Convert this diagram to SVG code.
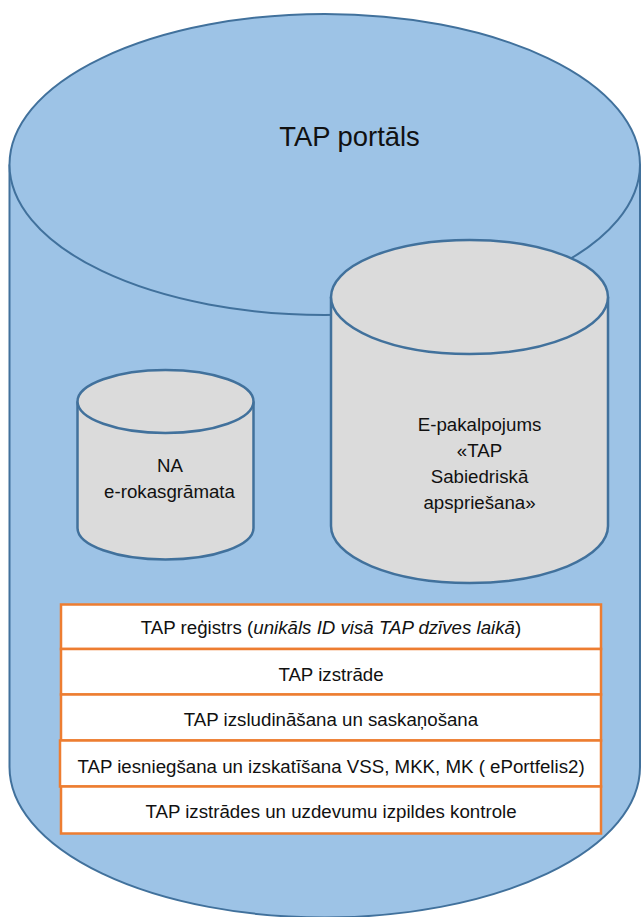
<svg xmlns="http://www.w3.org/2000/svg" width="641" height="917" viewBox="0 0 641 917">
<style>
.blue{fill:#9DC3E6;stroke:#41719C;stroke-width:2}
.grey{fill:#DBDBDB;stroke:#41719C;stroke-width:2.5}
.box{fill:#FFFFFF;stroke:#ED7D31;stroke-width:2.5}
text{font-family:"Liberation Sans",Arial,sans-serif;fill:#111;text-anchor:middle}
.t{font-size:18.7px}
.big{font-size:27.4px}
</style>
<rect width="641" height="917" fill="#FFFFFF"/>
<g id="tap-portals">
<path class="blue" d="M9.5,164.5 V767 A315.25,150.5 0 0,0 640,767 V164.5"/>
<ellipse class="blue" cx="324.75" cy="164.5" rx="315.25" ry="150.5"/>
<text class="big" x="349.5" y="146">TAP portāls</text>
</g>
<g id="na-e-rokasgramata">
<path class="grey" d="M77.5,401.5 V528 A88,31.5 0 0,0 253.5,528 V401.5"/>
<ellipse class="grey" cx="165.5" cy="401.5" rx="88" ry="31.5"/>
<text class="t" x="170" y="471.5">NA</text>
<text class="t" x="169.5" y="497.5">e-rokasgrāmata</text>
</g>
<g id="e-pakalpojums">
<path class="grey" d="M331,297 V526 A138.5,57 0 0,0 608,526 V297"/>
<ellipse class="grey" cx="469.5" cy="297" rx="138.5" ry="57"/>
<text class="t" x="479.5" y="431">E-pakalpojums</text>
<text class="t" x="479.5" y="457">«TAP</text>
<text class="t" x="479.5" y="483">Sabiedriskā</text>
<text class="t" x="479.5" y="509">apspriešana»</text>
</g>
<g id="box-registrs">
<rect class="box" x="61" y="604.5" width="540" height="44.5"/>
<text class="t" x="331" y="634">TAP reģistrs (<tspan font-style="italic">unikāls ID visā TAP dzīves laikā</tspan>)</text>
</g>
<g id="box-izstrade">
<rect class="box" x="61" y="649" width="540" height="45.5"/>
<text class="t" x="331" y="680.5">TAP izstrāde</text>
</g>
<g id="box-izsludinasana">
<rect class="box" x="61" y="694.5" width="540" height="46"/>
<text class="t" x="331" y="726">TAP izsludināšana un saskaņošana</text>
</g>
<g id="box-iesniegsana">
<rect class="box" x="60" y="740.5" width="541" height="46"/>
<text class="t" x="331" y="773">TAP iesniegšana un izskatīšana VSS, MKK, MK ( ePortfelis2)</text>
</g>
<g id="box-kontrole">
<rect class="box" x="61" y="786.5" width="540" height="47"/>
<text class="t" x="331" y="818">TAP izstrādes un uzdevumu izpildes kontrole</text>
</g>
</svg>
